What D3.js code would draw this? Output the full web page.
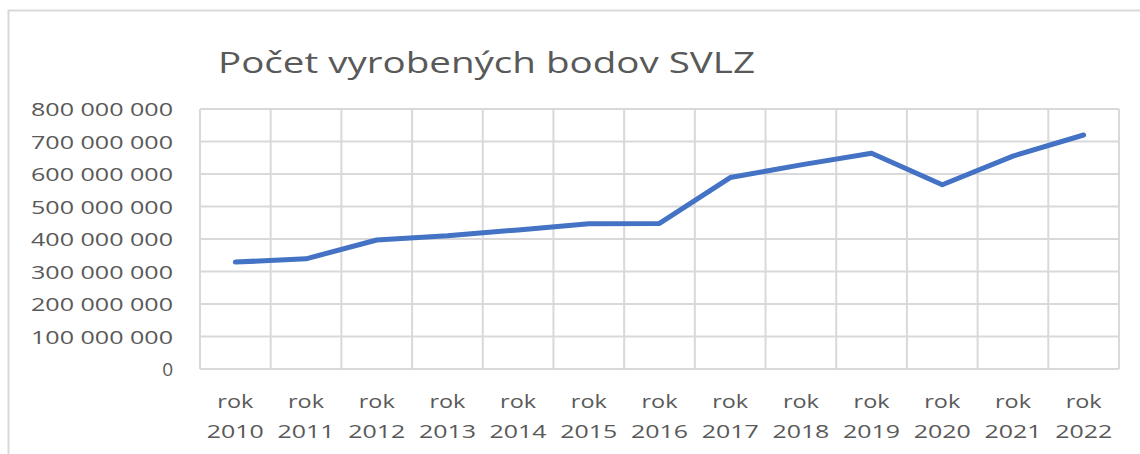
<!DOCTYPE html>
<html>
<head>
<meta charset="utf-8">
<script src="https://cdn.jsdelivr.net/npm/d3@7"></script>
<style>
  body { margin: 0; background: #fff; }
  svg { display: block; }
  text { font-family: "Open Sans", "Liberation Sans", sans-serif; fill: #595959; }
</style>
</head>
<body>
<svg width="1140" height="454"></svg>
<script>
// data
var years = ["2010", "2011", "2012", "2013", "2014", "2015", "2016",
             "2017", "2018", "2019", "2020", "2021", "2022"];
var points = [329e6, 339e6, 397e6, 410e6, 428e6, 447e6, 448e6,
              589e6, 628e6, 664e6, 567e6, 655e6, 720e6];
var yTicks = [0, 1e8, 2e8, 3e8, 4e8, 5e8, 6e8, 7e8, 8e8];
var title = "Počet vyrobených bodov SVLZ";

var svg = d3.select("svg"),
    margin = {top: 109, left: 200, right: 21, bottom: 85},
    width = +svg.attr("width") - margin.left - margin.right,
    height = +svg.attr("height") - margin.top - margin.bottom;

// chart frame (only top and left edges are in view)
svg.append("rect")
    .attr("x", 8.5).attr("y", 10.5)
    .attr("width", 1200).attr("height", 600)
    .attr("fill", "none")
    .attr("stroke", "#d9d9d9")
    .attr("stroke-width", 2);

svg.append("text")
    .attr("x", 218)
    .attr("y", 73)
    .attr("font-size", 29)
    .attr("textLength", 537)
    .attr("lengthAdjust", "spacingAndGlyphs")
    .text(title);

var x = d3.scaleBand().domain(years).range([0, width]).padding(0);
var y = d3.scaleLinear().domain([0, 8e8]).range([height, 0]);

var g = svg.append("g")
    .attr("transform", "translate(" + margin.left + "," + margin.top + ")");

// horizontal gridlines
g.append("g").selectAll("line")
    .data(yTicks)
    .join("line")
    .attr("x1", 0).attr("x2", width)
    .attr("y1", function (d) { return y(d); })
    .attr("y2", function (d) { return y(d); })
    .attr("stroke", "#d9d9d9")
    .attr("stroke-width", 2);

// vertical gridlines between categories
var edges = years.map(function (d) { return x(d); }).concat([width]);
g.append("g").selectAll("line")
    .data(edges)
    .join("line")
    .attr("x1", function (d) { return d; })
    .attr("x2", function (d) { return d; })
    .attr("y1", 0).attr("y2", height)
    .attr("stroke", "#d9d9d9")
    .attr("stroke-width", 2);

// y axis labels
var fmt = function (d) { return d3.format(",")(d).replace(/,/g, " "); };
g.append("g").selectAll("text")
    .data(yTicks)
    .join("text")
    .attr("x", -27)
    .attr("y", function (d) { return y(d) + 7; })
    .attr("text-anchor", "end")
    .attr("font-size", 19)
    .attr("textLength", function (d) { return d === 0 ? null : 142; })
    .attr("lengthAdjust", "spacingAndGlyphs")
    .text(fmt);

// x axis labels, two lines
var xl = g.append("g").selectAll("g")
    .data(years)
    .join("g")
    .attr("transform", function (d) { return "translate(" + (x(d) + x.bandwidth() / 2) + "," + height + ")"; });
xl.append("text")
    .attr("y", 39)
    .attr("text-anchor", "middle")
    .attr("font-size", 19)
    .attr("textLength", 36)
    .attr("lengthAdjust", "spacingAndGlyphs")
    .text("rok");
xl.append("text")
    .attr("y", 69)
    .attr("text-anchor", "middle")
    .attr("font-size", 19)
    .attr("textLength", 57)
    .attr("lengthAdjust", "spacingAndGlyphs")
    .text(function (d) { return d; });

var line = d3.line()
    .x(function (d, i) { return x(years[i]) + x.bandwidth() / 2; })
    .y(function (d) { return y(d); });

g.append("path")
    .datum(points)
    .attr("d", line)
    .attr("fill", "none")
    .attr("stroke", "#4472c4")
    .attr("stroke-width", 5)
    .attr("stroke-linejoin", "round")
    .attr("stroke-linecap", "round");
</script>
</body>
</html>
